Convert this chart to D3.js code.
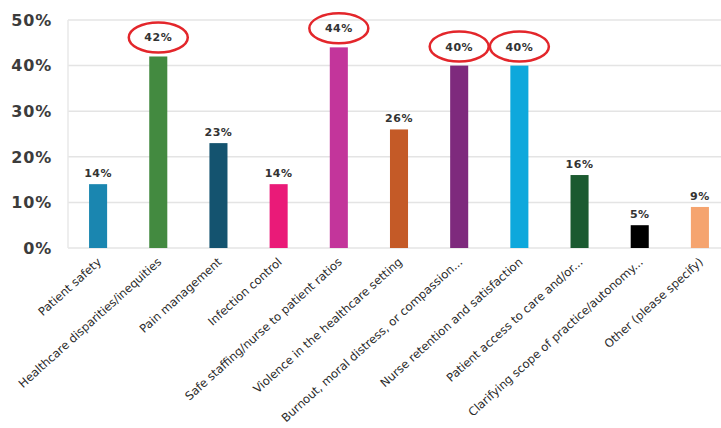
<!DOCTYPE html>
<html>
<head>
<meta charset="utf-8">
<script src="https://cdn.jsdelivr.net/npm/d3@7"></script>
<style>
  body { margin: 0; background: #fff; }
  svg { display: block; }
</style>
</head>
<body>
<svg id="chart"></svg>
<script>
const categories = [
  "Patient safety",
  "Healthcare disparities/inequities",
  "Pain management",
  "Infection control",
  "Safe staffing/nurse to patient ratios",
  "Violence in the healthcare setting",
  "Burnout, moral distress, or compassion...",
  "Nurse retention and satisfaction",
  "Patient access to care and/or...",
  "Clarifying scope of practice/autonomy...",
  "Other (please specify)"
];
const values = [14, 42, 23, 14, 44, 26, 40, 40, 16, 5, 9];
const colors = ["#1a86b0", "#438a40", "#14536f", "#ea1a78", "#c3359b", "#c45a27",
                "#7e2a7d", "#0ea8dc", "#1b5a30", "#000000", "#f5a46f"];
const highlighted = ["Healthcare disparities/inequities", "Safe staffing/nurse to patient ratios",
                     "Burnout, moral distress, or compassion...", "Nurse retention and satisfaction"];
const yTicks = [0, 10, 20, 30, 40, 50];

const width = 721, height = 428;
const plotLeft = 68, plotTop = 20, plotBottom = 248;

const svg = d3.select("#chart").attr("width", width).attr("height", height);

const x = d3.scaleBand().domain(categories).range([plotLeft, 730])
  .paddingInner(0.7).paddingOuter(0.35);
const y = d3.scaleLinear().domain([0, 50]).range([plotBottom, plotTop]);

// gridlines
svg.append("g").selectAll("line")
  .data(yTicks)
  .enter().append("line")
  .attr("x1", plotLeft).attr("x2", width)
  .attr("y1", d => y(d)).attr("y2", d => y(d))
  .attr("stroke", "#e4e4e4").attr("stroke-width", 1.5);

svg.append("line")
  .attr("x1", plotLeft).attr("x2", plotLeft)
  .attr("y1", y(50)).attr("y2", y(0))
  .attr("stroke", "#e8e8e8").attr("stroke-width", 1.5);

// y labels
svg.append("g").selectAll("text")
  .data(yTicks)
  .enter().append("text")
  .attr("x", 52).attr("y", d => y(d))
  .attr("dy", "0.36em")
  .attr("text-anchor", "end")
  .attr("font-family", "DejaVu Sans")
  .attr("font-weight", "bold")
  .attr("font-size", 16)
  .attr("letter-spacing", 0.8)
  .attr("fill", "#3c3c3c")
  .text(d => d + "%");

// bars
svg.append("g").selectAll("rect")
  .data(categories)
  .enter().append("rect")
  .attr("x", d => x(d))
  .attr("width", x.bandwidth())
  .attr("y", (d, i) => y(values[i]))
  .attr("height", (d, i) => y(0) - y(values[i]))
  .attr("fill", (d, i) => colors[i]);

const isHi = d => highlighted.indexOf(d) >= 0;
const labelY = (d, i) => y(values[i]) - (isHi(d) ? 15 : 7);

// red ellipses on the top answers
svg.append("g").selectAll("ellipse")
  .data(categories.filter(isHi))
  .enter().append("ellipse")
  .attr("cx", d => x(d) + x.bandwidth() / 2)
  .attr("cy", d => labelY(d, categories.indexOf(d)) - 4)
  .attr("rx", 29.5).attr("ry", 15)
  .attr("fill", "none")
  .attr("stroke", "#e3262b")
  .attr("stroke-width", 2.5);

// value labels
svg.append("g").selectAll("text")
  .data(categories)
  .enter().append("text")
  .attr("x", d => x(d) + x.bandwidth() / 2)
  .attr("y", labelY)
  .attr("text-anchor", "middle")
  .attr("font-family", "DejaVu Sans")
  .attr("font-weight", "bold")
  .attr("font-size", 11)
  .attr("letter-spacing", 0.5)
  .attr("fill", "#333")
  .text((d, i) => values[i] + "%");

// category labels
svg.append("g").selectAll("text")
  .data(categories)
  .enter().append("text")
  .attr("transform", d => `translate(${x(d) + x.bandwidth() / 2 + 4},${plotBottom + 15}) rotate(-42)`)
  .attr("text-anchor", "end")
  .attr("font-family", "DejaVu Sans")
  .attr("font-size", 11.6)
  .attr("fill", "#2a2a2a")
  .text(d => d);
</script>
</body>
</html>
